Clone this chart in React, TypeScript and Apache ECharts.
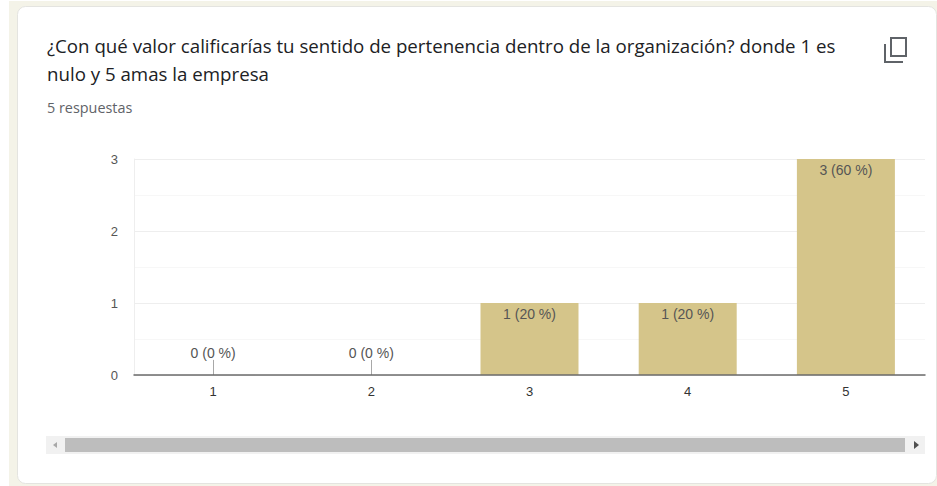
import React, { useEffect, useRef } from "react";
import * as echarts from "echarts";

const categories = ["1", "2", "3", "4", "5"];
const counts = [0, 0, 1, 1, 3];
const percentLabels = ["0 (0 %)", "0 (0 %)", "1 (20 %)", "1 (20 %)", "3 (60 %)"];
const leaderHeight = 0.21;
const titleText = "¿Con qué valor calificarías tu sentido de pertenencia dentro de la organización? donde 1 es\nnulo y 5 amas la empresa";
const subtitleText = "5 respuestas";

echarts.graphic.registerShape(
  "copyIcon",
  echarts.graphic.extendPath(
    "M6 0H23V20H6Z M8 2V18H21V2Z M0 7H2V24H19V26H0Z",
    {}
  ) as any
);

export default function App() {
  const ref = useRef<HTMLDivElement>(null);
  useEffect(() => {
    document.body.style.margin = "0";
    document.body.style.background = "#ffffff";
    const chart = echarts.init(ref.current!, null, { renderer: "svg" });
    chart.setOption({
      animation: false,
      backgroundColor: "#ffffff",
      textStyle: { fontFamily: "Liberation Sans" },
      grid: { left: 134, right: 12, top: 159, height: 216, containLabel: false },
      xAxis: {
        type: "category",
        data: categories,
        axisLine: { lineStyle: { color: "#6b6b6b", width: 1.5 } },
        axisTick: { show: false },
        axisLabel: { color: "#333333", fontSize: 13, margin: 10, fontFamily: "Liberation Sans" },
        splitLine: { show: false },
        z: 5,
      },
      yAxis: {
        type: "value",
        min: 0,
        max: 3,
        interval: 1,
        axisLine: { show: true, lineStyle: { color: "#eeeeee" } },
        axisTick: { show: false },
        axisLabel: { color: "#555555", fontSize: 13, margin: 16, fontFamily: "Liberation Sans" },
        splitLine: { show: true, lineStyle: { color: "#eeeeee", width: 1 } },
        minorTick: { show: false, splitNumber: 2 },
        minorSplitLine: { show: true, lineStyle: { color: "#f7f7f7", width: 1 } },
      },
      series: [
        {
          type: "bar",
          data: counts.map((value, i) => ({
            value,
            label: {
              show: true,
              formatter: percentLabels[i],
              position: value === 0 ? "top" : "insideTop",
              distance: value === 0 ? 15 : 4,
              color: "#555555",
              fontSize: 14,
              fontFamily: "Liberation Sans",
            },
          })),
          barWidth: 98,
          itemStyle: { color: "#d5c58a" },
          markLine: {
            silent: true,
            symbol: "none",
            label: { show: false },
            lineStyle: { color: "#a8a8a8", width: 1, type: "solid" },
            data: counts
              .map((value, i) => ({ value, i }))
              .filter((d) => d.value === 0)
              .map((d) => [
                { coord: [d.i, 0] },
                { coord: [d.i, leaderHeight] },
              ]),
          },
        },
      ],
      graphic: [
        { type: "rect", z: -11, shape: { x: 9, y: 1, width: 928, height: 485 }, style: { fill: "#f4f3e8" } },
        { type: "rect", z: -10, shape: { x: 17.5, y: 6.5, width: 919, height: 477, r: 8 }, style: { fill: "#ffffff", stroke: "#e4e4e0", lineWidth: 1 } },
        { type: "text", x: 47, y: 31, style: { text: titleText, fill: "#202124", font: '18.7px "Open Sans"', lineHeight: 28, textVerticalAlign: "top" } },
        { type: "text", x: 47, y: 100, style: { text: subtitleText, fill: "#5f6368", font: '14.4px "Open Sans"', textVerticalAlign: "top" } },
        { type: "copyIcon", x: 884, y: 37, style: { fill: "#5f6368" } },
        { type: "rect", shape: { x: 46, y: 436, width: 879, height: 18 }, style: { fill: "#f1f1f1" } },
        { type: "rect", shape: { x: 65, y: 438, width: 840, height: 14 }, style: { fill: "#bdbdbd" } },
        { type: "polygon", shape: { points: [[57, 442], [53, 445], [57, 448]] }, style: { fill: "#a8a8a8" } },
        { type: "polygon", shape: { points: [[914, 441], [919, 445], [914, 449]] }, style: { fill: "#505050" } },
      ],
    });
    return () => chart.dispose();
  }, []);
  return <div ref={ref} style={{ width: 937, height: 486 }} />;
}
